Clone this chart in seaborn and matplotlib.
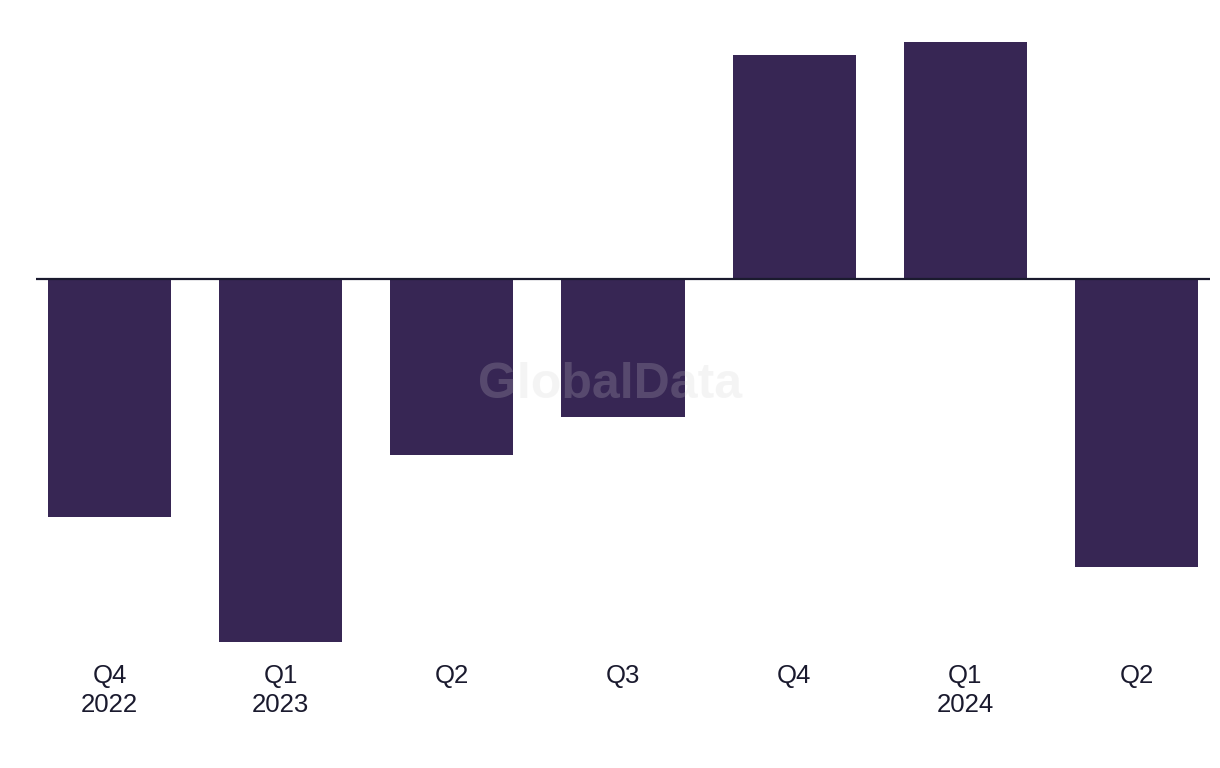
import matplotlib
matplotlib.use("Agg")
import matplotlib.pyplot as plt
import seaborn as sns
import pandas as pd

categories = ["Q4\n2022", "Q1\n2023", "Q2", "Q3", "Q4", "Q1\n2024", "Q2"]
values = [-2.38, -3.63, -1.76, -1.38, 2.24, 2.37, -2.88]

sns.set_theme(style="white")
plt.rcParams['font.family'] = ['Liberation Sans', 'DejaVu Sans']

df = pd.DataFrame({"x": range(len(categories)), "v": values})

fig = plt.figure(figsize=(12.2, 7.68), dpi=100)
# axes from x=36 to 1210 px, y from 20 to 650 px (top-origin)
ax = fig.add_axes([36/1220, (768-650)/768, (1210-36)/1220, (650-20)/768])
sns.barplot(data=df, x="x", y="v", color="#372654", width=0.72,
            saturation=1, ax=ax, zorder=2, linewidth=0)
ax.set_xlim(-0.43, 6.43)
ax.set_ylim(-3.71, 2.59)
ax.axhline(0, color="#1a1a2e", lw=1.6, zorder=3)
for s in ax.spines.values():
    s.set_visible(False)
ax.set_yticks([])
ax.set_xlabel("")
ax.set_ylabel("")
ax.set_xticks(range(len(categories)))
ax.set_xticklabels(categories, fontsize=18.5, color="#1a1a2e", linespacing=1.25)
ax.tick_params(axis="x", length=0, pad=10)
ax.grid(False)

fig.text(610/1220, 1 - 385/768, "GlobalData", ha="center", va="center",
         fontsize=36, fontweight="bold", color="#cfcfcf", alpha=0.21, zorder=10)

fig.savefig("out.png", dpi=100)
